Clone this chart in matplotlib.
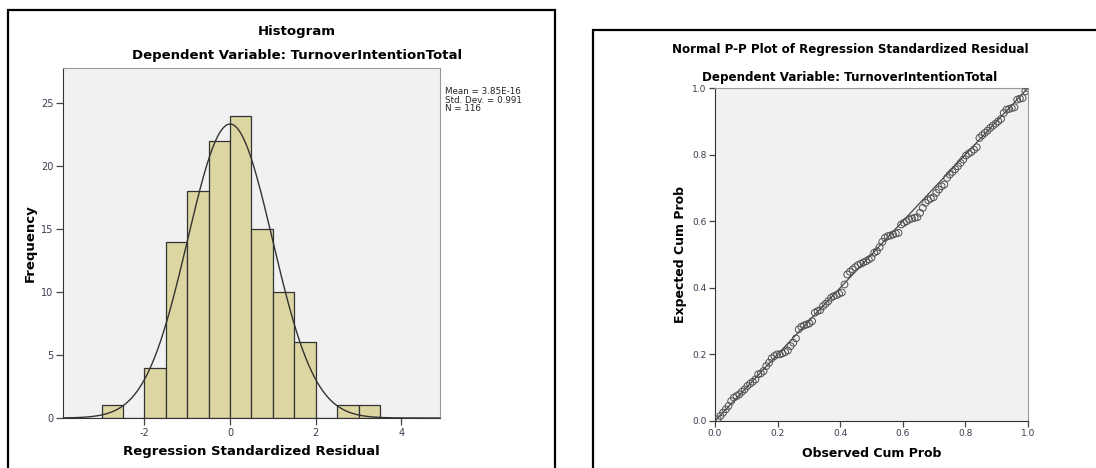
import numpy as np
import matplotlib
matplotlib.use("Agg")
import matplotlib.pyplot as plt
from matplotlib.patches import Rectangle

# histogram of standardized residuals (bin width 0.5)
bin_edges = [-3.0, -2.5, -2.0, -1.5, -1.0, -0.5, 0.0, 0.5, 1.0, 1.5, 2.0, 2.5, 3.0, 3.5]
bin_counts = [1, 0, 4, 14, 18, 22, 24, 15, 10, 6, 0, 1, 1]
res_mean = 3.85e-16
res_sd = 0.991
n_obs = 116
stats_text = "Mean = 3.85E-16\nStd. Dev. = 0.991\nN = 116"

# P-P plot: expected cumulative prob for each ranked residual
expected_cum = [
    0.005, 0.015, 0.025, 0.035, 0.045, 0.060, 0.070, 0.075, 0.080, 0.088,
    0.095, 0.105, 0.112, 0.118, 0.125, 0.140, 0.143, 0.150, 0.165, 0.175,
    0.188, 0.195, 0.200, 0.200, 0.203, 0.207, 0.212, 0.225, 0.235, 0.248,
    0.275, 0.283, 0.287, 0.290, 0.293, 0.300, 0.325, 0.330, 0.333, 0.345,
    0.352, 0.360, 0.370, 0.375, 0.378, 0.382, 0.386, 0.410, 0.440, 0.448,
    0.455, 0.462, 0.468, 0.472, 0.476, 0.480, 0.485, 0.490, 0.505, 0.510,
    0.522, 0.538, 0.550, 0.555, 0.557, 0.560, 0.563, 0.565, 0.590, 0.595,
    0.600, 0.605, 0.608, 0.610, 0.612, 0.625, 0.640, 0.655, 0.663, 0.668,
    0.672, 0.685, 0.695, 0.705, 0.710, 0.730, 0.740, 0.748, 0.756, 0.765,
    0.775, 0.785, 0.797, 0.803, 0.808, 0.815, 0.822, 0.850, 0.858, 0.865,
    0.872, 0.880, 0.887, 0.893, 0.900, 0.907, 0.925, 0.935, 0.937, 0.940,
    0.942, 0.965, 0.968, 0.970, 0.990, 0.999,
]
observed_cum = np.arange(1, len(expected_cum) + 1) / len(expected_cum)

plt.rcParams["font.family"] = "DejaVu Sans"
plt.rcParams["axes.unicode_minus"] = False
tick_col = "#3a3a50"
bg_col = "#f1f1f1"

W, H = 1096, 468
fig = plt.figure(figsize=(W / 100, H / 100), dpi=100)
fig.patch.set_facecolor("white")

# the two framed panels
fig.patches.append(Rectangle((8 / W, -0.01), (555 - 8) / W, (H - 10) / H + 0.01,
                             transform=fig.transFigure, fill=False, ec="black", lw=1.6))
fig.patches.append(Rectangle((593 / W, -0.01), (W + 5 - 593) / W, (H - 30) / H + 0.01,
                             transform=fig.transFigure, fill=False, ec="black", lw=1.6))

# ---- histogram ----
ax1 = fig.add_axes([63 / W, (H - 418) / H, (440 - 63) / W, (418 - 68) / H])
ax1.set_facecolor(bg_col)
ax1.hist(bin_edges[:-1], bins=bin_edges, weights=bin_counts,
         color="#dcd6a2", edgecolor="#333333", linewidth=0.9)
xs = np.linspace(-3.9, 4.9, 400)
curve = n_obs * 0.5 / (res_sd * np.sqrt(2 * np.pi)) * np.exp(-0.5 * ((xs - res_mean) / res_sd) ** 2)
ax1.plot(xs, curve, color="#333333", lw=1.0)
ax1.set_xlim(-3.9, 4.9)
ax1.set_ylim(0, 27.8)
ax1.set_xticks([-2, 0, 2, 4])
ax1.set_yticks([0, 5, 10, 15, 20, 25])
ax1.tick_params(direction="out", length=5, width=0.9, color="#444444",
                labelsize=7, labelcolor=tick_col, pad=2)
for s in ["top", "right"]:
    ax1.spines[s].set_color("#999999")
for s in ["left", "bottom"]:
    ax1.spines[s].set_color("#333333")
ax1.set_xlabel("Regression Standardized Residual", fontsize=9.5, fontweight="bold", labelpad=5)
ax1.set_ylabel("Frequency", fontsize=9.5, fontweight="bold", labelpad=3)
fig.text(445 / W, (H - 87) / H, stats_text, fontsize=6.3, va="top", ha="left",
         color="#222222", linespacing=0.95)
fig.text(297 / W, (H - 31) / H, "Histogram", fontsize=9.5, fontweight="bold",
         ha="center", va="center")
fig.text(297 / W, (H - 56) / H, "Dependent Variable: TurnoverIntentionTotal",
         fontsize=9.5, fontweight="bold", ha="center", va="center")

# ---- P-P plot ----
ax2 = fig.add_axes([715 / W, (H - 421) / H, (1028 - 715) / W, (421 - 88) / H])
ax2.set_facecolor(bg_col)
ax2.plot([0, 1], [0, 1], color="#444444", lw=0.9)
ax2.scatter(observed_cum, expected_cum, s=24, facecolors="none",
            edgecolors="#505050", linewidths=0.7, zorder=3)
ax2.set_xlim(0, 1)
ax2.set_ylim(0, 1)
ticks = [0.0, 0.2, 0.4, 0.6, 0.8, 1.0]
ax2.set_xticks(ticks)
ax2.set_yticks(ticks)
ax2.set_xticklabels(["%.1f" % t for t in ticks])
ax2.set_yticklabels(["%.1f" % t for t in ticks])
ax2.tick_params(direction="out", length=4, width=0.9, color="#444444",
                labelsize=6.5, labelcolor=tick_col, pad=2)
for s in ["top", "right"]:
    ax2.spines[s].set_color("#999999")
for s in ["left", "bottom"]:
    ax2.spines[s].set_color("#333333")
ax2.set_xlabel("Observed Cum Prob", fontsize=9, fontweight="bold", labelpad=6)
ax2.set_ylabel("Expected Cum Prob", fontsize=9, fontweight="bold", labelpad=4)
fig.text(850 / W, (H - 50) / H, "Normal P-P Plot of Regression Standardized Residual",
         fontsize=8.6, fontweight="bold", ha="center", va="center")
fig.text(850 / W, (H - 77) / H, "Dependent Variable: TurnoverIntentionTotal",
         fontsize=8.6, fontweight="bold", ha="center", va="center")

fig.savefig("out.png", dpi=100)
